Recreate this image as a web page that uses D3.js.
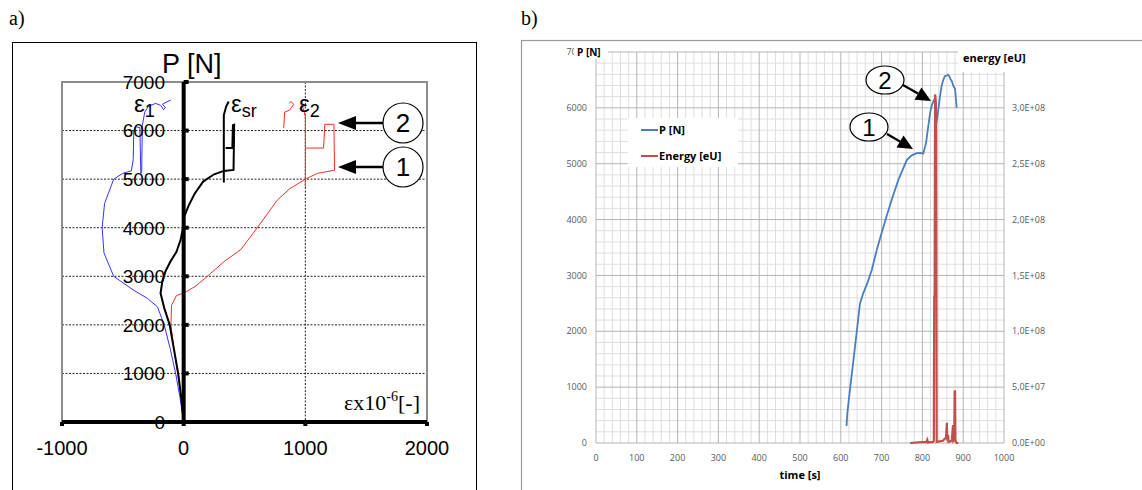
<!DOCTYPE html>
<html>
<head>
<meta charset="utf-8">
<script src="https://cdn.jsdelivr.net/npm/d3@7"></script>
<style>
  body { margin: 0; background: #fff; }
  svg { display: block; }
</style>
</head>
<body>
<div id="chart"></div>
<script>
let width = 1142;
let height = 490;

// ---- panel a data: [strain x10^-6, P in N], null = pen up
let strainTicks = [-1000, 0, 1000, 2000];
let loadTicksA = [0, 1000, 2000, 3000, 4000, 5000, 6000, 7000];

let eps1 = [[0,0],[-30,500],[-66,1000],[-110,1500],[-160,2000],[-215,2370],[-300,2550],[-410,2710],
    [-575,3000],[-655,3480],[-670,4000],[-650,4500],[-575,5000],[-500,5120],[-430,5170],[-415,5400],
    [-410,6000],[-395,6080],[-360,6060],[-352,5120],[-345,5150],[-340,6100],[-320,6380],[-290,6500],
    [-230,6560],[-190,6520],[-165,6430],[-150,6480],[-175,6540],[-140,6590],[-105,6630]];

let epsSr = [[0,0],[-20,500],[-45,1000],[-80,1500],[-115,2000],[-160,2350],[-190,2650],[-175,2900],
    [-150,3100],[-110,3300],[-60,3500],[-25,3750],[-5,4000],[0,4200],[40,4450],[90,4700],[160,4950],[250,5100],
    [330,5170],[410,5190],[415,6120],[405,6110],[400,5640],[345,5640],null,
    [330,4930],[330,6320],[350,6500],[370,6600]];

let eps2 = [[0,0],[-20,500],[-50,1000],[-80,1500],[-105,2000],[-100,2400],[-60,2600],[20,2680],
    [100,2800],[195,3000],[330,3300],[470,3550],[605,4000],[770,4570],[870,4800],[1000,5000],
    [1100,5120],[1210,5170],[1240,5185],[1235,6130],[1160,6130],[1150,5640],[1005,5640],null,
    [1000,4840],[1000,6280],[985,6450],[960,6560],null,
    [822,6050],[830,6380],[870,6420],[905,6540],[880,6600],[868,6560]];

// ---- panel b data
let timeTicks = [0, 100, 200, 300, 400, 500, 600, 700, 800, 900, 1000];
let loadTicksB = [0, 1000, 2000, 3000, 4000, 5000, 6000, 7000];
let energyTicks = [0, 5e7, 1e8, 1.5e8, 2e8, 2.5e8, 3e8];

let pTime = [614,616,620,630,640,647,655,666,676,688,700,712,726,741,752,762,774,786,795,802,
    809,814,819,823,827,831,833.5,836,839,843,847,851,855,860,863.5,866,869,872,876,880,884];
let pLoad = [305,530,800,1420,2050,2500,2680,2880,3100,3450,3760,4055,4380,4710,4900,5070,5150,5190,5195,5180,
    5375,5650,5910,6050,6120,6170,5700,5800,5970,6200,6390,6500,6565,6580,6595,6565,6510,6480,6390,6340,6000];

let eTime = [770,790,810,812,814,826,828,829,830,831,832,833,834,835,850,858,860,861,863,864,872,875,876,878,879,880,881,884,888];
let eValue = [0,5e5,1e6,3e6,5e5,1e6,2e6,1.32e8,1.3e8,3.12e8,3.1e8,3.05e8,2.8e8,1e6,2e6,5e6,1.8e7,2e6,7e6,1e6,2e6,1.6e7,2e6,3e6,4.7e7,4.6e7,2e6,0,0];

let svg = d3.select("#chart").append("svg")
    .attr("width", width)
    .attr("height", height);

svg.append("rect").attr("width", width).attr("height", height).attr("fill", "#fff");

// ================= panel a =================
let ga = svg.append("g");

ga.append("text").attr("x", 9).attr("y", 25)
    .attr("font-family", "Liberation Serif, serif").attr("font-size", 20).text("a)");

ga.append("rect").attr("x", 12.5).attr("y", 42.5).attr("width", 464).attr("height", 470)
    .attr("fill", "none").attr("stroke", "#000").attr("stroke-width", 1);

let xA = d3.scaleLinear().domain([-1000, 2000]).range([62, 427]);
let yA = d3.scaleLinear().domain([0, 7000]).range([422, 82]);

// dotted grid
ga.selectAll(".hgrid").data(loadTicksA.filter(d => d > 0 && d < 7000)).enter()
    .append("line")
    .attr("x1", xA(-1000)).attr("x2", xA(2000))
    .attr("y1", d => yA(d)).attr("y2", d => yA(d))
    .attr("stroke", "#222").attr("stroke-width", 1).attr("stroke-dasharray", "2,1.5");
ga.append("line")
    .attr("x1", xA(1000)).attr("x2", xA(1000))
    .attr("y1", yA(7000)).attr("y2", yA(0))
    .attr("stroke", "#222").attr("stroke-width", 1).attr("stroke-dasharray", "2,1.5");

// grey plot frame (left, top, right)
ga.append("path")
    .attr("d", `M${xA(-1000)},${yA(0)}V${yA(7000)}H${xA(2000)}V${yA(0)}`)
    .attr("fill", "none").attr("stroke", "#8c8c8c").attr("stroke-width", 2);

let lineA = d3.line()
    .defined(d => d !== null)
    .x(d => xA(d[0]))
    .y(d => yA(d[1]));

ga.append("path").datum(eps1).attr("d", lineA)
    .attr("fill", "none").attr("stroke", "#3333ff").attr("stroke-width", 1);
ga.append("path").datum(eps2).attr("d", lineA)
    .attr("fill", "none").attr("stroke", "#ff2a2a").attr("stroke-width", 1);
ga.append("path").datum(epsSr).attr("d", lineA)
    .attr("fill", "none").attr("stroke", "#000").attr("stroke-width", 2);

// thick axes
ga.append("line").attr("x1", xA(-1000)).attr("x2", xA(2000))
    .attr("y1", yA(0)).attr("y2", yA(0)).attr("stroke", "#000").attr("stroke-width", 4);
ga.append("line").attr("x1", xA(0)).attr("x2", xA(0))
    .attr("y1", yA(7000)).attr("y2", yA(0)).attr("stroke", "#000").attr("stroke-width", 4);
ga.selectAll(".xtk").data(strainTicks).enter().append("rect")
    .attr("x", d => xA(d) - 2).attr("y", yA(0)).attr("width", 4).attr("height", 4).attr("fill", "#000");
ga.selectAll(".ytk").data(loadTicksA).enter().append("rect")
    .attr("x", xA(0)).attr("y", d => yA(d) - 2).attr("width", 5).attr("height", 4).attr("fill", "#000");

// tick labels
ga.selectAll(".ylab").data(loadTicksA).enter().append("text")
    .attr("x", 165).attr("y", d => yA(d))
    .attr("dy", "0.36em").attr("text-anchor", "end")
    .attr("font-family", "Liberation Sans, Arial, sans-serif").attr("font-size", 19)
    .text(d => d);
ga.selectAll(".xlab").data(strainTicks).enter().append("text")
    .attr("x", d => xA(d)).attr("y", 448)
    .attr("dy", "0.36em").attr("text-anchor", "middle")
    .attr("font-family", "Liberation Sans, Arial, sans-serif").attr("font-size", 20)
    .text(d => d);

ga.append("text").attr("x", 162).attr("y", 73)
    .attr("font-family", "Liberation Sans, Arial, sans-serif").attr("font-size", 27).text("P [N]");

let eps = ga.append("g").attr("font-family", "Liberation Sans, Arial, sans-serif").attr("font-size", 24);
[[134, "1"], [231, "sr"], [299, "2"]].forEach(function (l) {
    let t = eps.append("text").attr("x", l[0]).attr("y", 112);
    t.append("tspan").text("ε");
    t.append("tspan").attr("dy", 5).attr("font-size", 18).text(l[1]);
});

let axTitle = ga.append("text").attr("x", 420).attr("y", 410).attr("text-anchor", "end")
    .attr("font-family", "Liberation Serif, serif").attr("font-size", 22);
axTitle.append("tspan").text("εx10");
axTitle.append("tspan").attr("dy", -9).attr("font-size", 14).text("-6");
axTitle.append("tspan").attr("dy", 9).text("[-]");

// circled markers with arrows (panel a)
[[123, "2"], [167, "1"]].forEach(function (m) {
    ga.append("line").attr("x1", 383).attr("x2", 352).attr("y1", m[0]).attr("y2", m[0])
        .attr("stroke", "#000").attr("stroke-width", 2.5);
    ga.append("path").attr("d", `M338,${m[0]}L356,${m[0] - 7}L356,${m[0] + 7}Z`).attr("fill", "#000");
    ga.append("circle").attr("cx", 403).attr("cy", m[0]).attr("r", 20)
        .attr("fill", "#fff").attr("stroke", "#000").attr("stroke-width", 1.2);
    ga.append("text").attr("x", 403).attr("y", m[0]).attr("dy", "0.36em").attr("text-anchor", "middle")
        .attr("font-family", "Liberation Sans, Arial, sans-serif").attr("font-size", 26).text(m[1]);
});

// ================= panel b =================
let gb = svg.append("g");

gb.append("text").attr("x", 521).attr("y", 25)
    .attr("font-family", "Liberation Serif, serif").attr("font-size", 20).text("b)");

gb.append("rect").attr("x", 521.5).attr("y", 40.5).attr("width", 640).attr("height", 470)
    .attr("fill", "none").attr("stroke", "#9a9a9a").attr("stroke-width", 1.2);

let xB = d3.scaleLinear().domain([0, 1000]).range([596, 1004]);
let yB = d3.scaleLinear().domain([0, 7000]).range([443, 52]);
let yE = d3.scaleLinear().domain([0, 3.5e8]).range([443, 52]);

let minorX = d3.range(0, 1001, 20).filter(d => d % 100 !== 0);
let minorY = d3.range(0, 7001, 200).filter(d => d % 1000 !== 0);

gb.selectAll(".mx").data(minorX).enter().append("line")
    .attr("x1", d => xB(d)).attr("x2", d => xB(d)).attr("y1", yB(7000)).attr("y2", yB(0))
    .attr("stroke", "#dedede").attr("stroke-width", 1);
gb.selectAll(".my").data(minorY).enter().append("line")
    .attr("x1", xB(0)).attr("x2", xB(1000)).attr("y1", d => yB(d)).attr("y2", d => yB(d))
    .attr("stroke", "#dedede").attr("stroke-width", 1);
gb.selectAll(".gx").data(timeTicks).enter().append("line")
    .attr("x1", d => xB(d)).attr("x2", d => xB(d)).attr("y1", yB(7000)).attr("y2", yB(0))
    .attr("stroke", "#b4b4b4").attr("stroke-width", 1);
gb.selectAll(".gy").data(loadTicksB).enter().append("line")
    .attr("x1", xB(0)).attr("x2", xB(1000)).attr("y1", d => yB(d)).attr("y2", d => yB(d))
    .attr("stroke", "#b4b4b4").attr("stroke-width", 1);

let tickFont = "Open Sans, sans-serif";

// the top "7000" label is partly hidden behind the axis title, as in the source
gb.append("clipPath").attr("id", "clipTop").append("rect")
    .attr("x", 540).attr("y", 40).attr("width", 34).attr("height", 20);
gb.selectAll(".ylb").data(loadTicksB).enter().append("text")
    .attr("x", 587).attr("y", d => yB(d)).attr("dy", "0.35em").attr("text-anchor", "end")
    .attr("clip-path", d => d === 7000 ? "url(#clipTop)" : null)
    .attr("font-family", tickFont).attr("font-size", 9).attr("fill", "#595959").text(d => d);
gb.selectAll(".xlb").data(timeTicks).enter().append("text")
    .attr("x", d => xB(d)).attr("y", 458).attr("dy", "0.35em").attr("text-anchor", "middle")
    .attr("font-family", tickFont).attr("font-size", 9).attr("fill", "#595959").text(d => d);
gb.selectAll(".elb").data(energyTicks).enter().append("text")
    .attr("x", 1012).attr("y", d => yE(d)).attr("dy", "0.35em")
    .attr("font-family", tickFont).attr("font-size", 9).attr("fill", "#595959")
    .text(d => d3.format(".1e")(d).replace(".", ",").replace(/e\+?(-?)(\d+)$/, (m, s, n) => "E" + (s || "+") + n.padStart(2, "0")));

let lineB = d3.line().x(d => xB(d[0])).y(d => yB(d[1]));
let lineE = d3.line().x(d => xB(d[0])).y(d => yE(d[1]));

gb.append("path").datum(d3.zip(pTime, pLoad)).attr("d", lineB)
    .attr("fill", "none").attr("stroke", "#4a7ec0").attr("stroke-width", 1.8);
gb.append("path").datum(d3.zip(eTime, eValue)).attr("d", lineE)
    .attr("fill", "none").attr("stroke", "#c0504d").attr("stroke-width", 2.2);

// title boxes
gb.append("rect").attr("x", 574).attr("y", 44).attr("width", 34).attr("height", 15).attr("fill", "#fff");
gb.append("text").attr("x", 577).attr("y", 56)
    .attr("font-family", tickFont).attr("font-size", 10).attr("font-weight", "bold").text("P [N]");
gb.append("rect").attr("x", 958).attr("y", 44).attr("width", 82).attr("height", 28).attr("fill", "#fff");
gb.append("text").attr("x", 963).attr("y", 62)
    .attr("font-family", tickFont).attr("font-size", 11).attr("font-weight", "bold").text("energy [eU]");
gb.append("text").attr("x", 800).attr("y", 479).attr("text-anchor", "middle")
    .attr("font-family", tickFont).attr("font-size", 11).attr("font-weight", "bold").text("time [s]");

// legend
let legend = gb.append("g");
legend.append("rect").attr("x", 628).attr("y", 118).attr("width", 110).attr("height", 49).attr("fill", "#fff");
[["P [N]", "#4a7ec0", 130], ["Energy [eU]", "#c0504d", 156]].forEach(function (l) {
    legend.append("line").attr("x1", 641).attr("x2", 658).attr("y1", l[2]).attr("y2", l[2])
        .attr("stroke", l[1]).attr("stroke-width", 2);
    legend.append("text").attr("x", 659).attr("y", l[2]).attr("dy", "0.35em")
        .attr("font-family", tickFont).attr("font-size", 11).attr("font-weight", "bold").text(l[0]);
});

// circled markers with arrows (panel b)
[[885, 80, "2", 903, 85, 931, 101], [869, 127, "1", 887, 134, 913, 149]].forEach(function (m) {
    let ang = Math.atan2(m[6] - m[4], m[5] - m[3]);
    let hl = 15, hw = 7;
    let bx = m[5] - hl * Math.cos(ang), by = m[6] - hl * Math.sin(ang);
    gb.append("line").attr("x1", m[3]).attr("y1", m[4]).attr("x2", bx).attr("y2", by)
        .attr("stroke", "#000").attr("stroke-width", 2.2);
    gb.append("path")
        .attr("d", `M${m[5]},${m[6]}L${bx - hw * Math.sin(ang)},${by + hw * Math.cos(ang)}L${bx + hw * Math.sin(ang)},${by - hw * Math.cos(ang)}Z`)
        .attr("fill", "#000");
    gb.append("ellipse").attr("cx", m[0]).attr("cy", m[1]).attr("rx", 19).attr("ry", 14)
        .attr("fill", "#fff").attr("stroke", "#000").attr("stroke-width", 1.2);
    gb.append("text").attr("x", m[0]).attr("y", m[1]).attr("dy", "0.36em").attr("text-anchor", "middle")
        .attr("font-family", "Liberation Sans, Arial, sans-serif").attr("font-size", 24).text(m[2]);
});
</script>
</body>
</html>
